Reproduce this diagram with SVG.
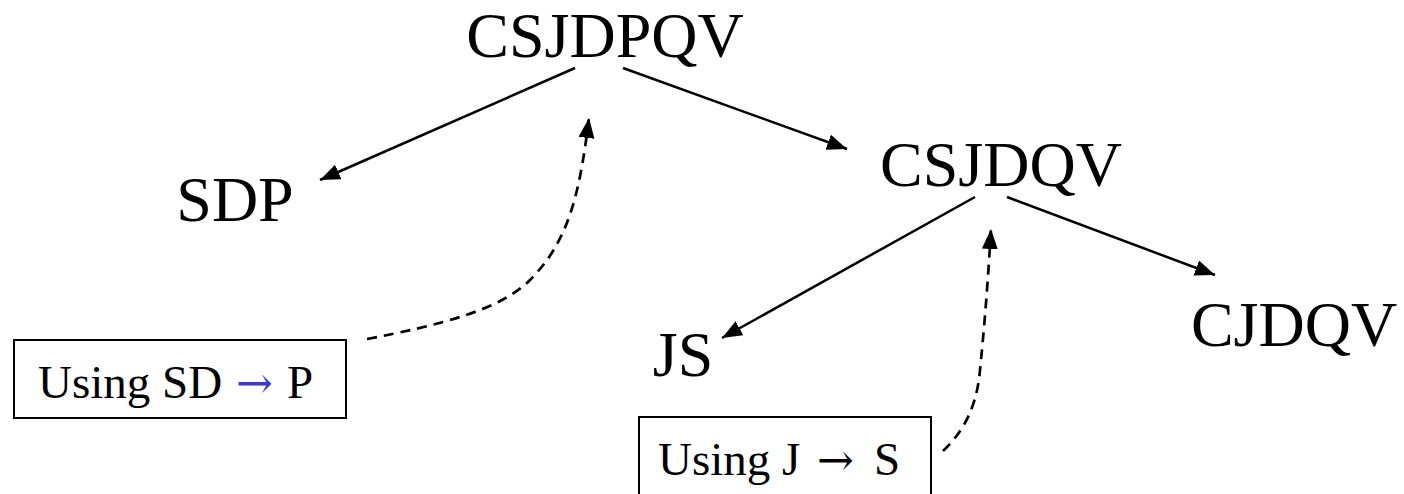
<svg xmlns="http://www.w3.org/2000/svg" width="1404" height="494" viewBox="0 0 1404 494">
  <style>
    .node { font-family: "Liberation Serif", "Times New Roman", serif; font-size: 64px; fill: #000; text-anchor: middle; }
    .note { font-family: "Liberation Serif", "Times New Roman", serif; font-size: 47px; fill: #000; }
    .arr { font-family: "DejaVu Serif", serif; font-size: 44px; }
    .box { fill: #fff; stroke: #000; stroke-width: 2; }
    .edge { fill: none; stroke: #000; stroke-width: 2.5; marker-end: url(#arrow); }
    .dash { fill: none; stroke: #000; stroke-width: 2.7; stroke-dasharray: 10 7; marker-end: url(#arrow); }
    .blue { fill: #3a3acc; }
  </style>
  <defs>
    <marker id="arrow" markerUnits="userSpaceOnUse" markerWidth="22" markerHeight="18" refX="20" refY="8" orient="auto">
      <path d="M0,0 L20,8 L0,16 Z" fill="#000"/>
    </marker>
  </defs>
  <rect width="1404" height="494" fill="#fff"/>

  <g id="connectors">
    <line class="edge" x1="575" y1="68" x2="320" y2="180"/>
    <line class="edge" x1="623" y1="68" x2="847" y2="149"/>
    <line class="edge" x1="975" y1="197" x2="722" y2="338"/>
    <line class="edge" x1="1007" y1="197" x2="1215" y2="275"/>
    <path class="dash" d="M367,339 C440,325 500,310 530,280 C570,240 580,190 589,118"/>
    <path class="dash" d="M943,451 C965,430 977,405 980,370 C985,320 988,280 991,229"/>
  </g>

  <g id="n-csjdpqv"><text class="node" x="605" y="57">CSJDPQV</text></g>
  <g id="n-sdp"><text class="node" x="235" y="221">SDP</text></g>
  <g id="n-csjdqv"><text class="node" x="1001" y="186">CSJDQV</text></g>
  <g id="n-js"><text class="node" x="683" y="376">JS</text></g>
  <g id="n-cjdqv"><text class="node" x="1294" y="346">CJDQV</text></g>

  <g id="note-sd-p">
    <rect class="box" x="14" y="340" width="332" height="78"/>
    <text class="note" x="38" y="398">Using SD<tspan class="blue arr" x="236">→</tspan><tspan x="287">P</tspan></text>
  </g>
  <g id="note-j-s">
    <rect class="box" x="639" y="417" width="292" height="90"/>
    <text class="note" x="658" y="475">Using J<tspan class="arr" x="817">→</tspan><tspan x="874">S</tspan></text>
  </g>
</svg>
